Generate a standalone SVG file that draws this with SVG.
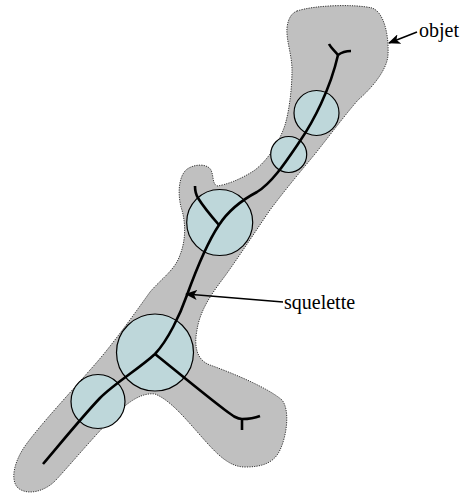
<svg xmlns="http://www.w3.org/2000/svg" width="460" height="493" viewBox="0 0 460 493">
<defs>
<style>
.obj{fill:#c0c0c0;stroke:#333;stroke-width:1;stroke-dasharray:1.2,1.2}
.ball{fill:#bed7da;stroke:#000;stroke-width:1.2}
.sk{fill:none;stroke:#000;stroke-width:2.6;stroke-linecap:butt;stroke-linejoin:round}
.lead{fill:none;stroke:#000;stroke-width:1.6}
.lbl{font-family:"Liberation Serif","Times New Roman",serif;font-size:20px;fill:#000}
</style>
<marker id="ah" viewBox="0 0 12 10" refX="11" refY="5" markerWidth="12" markerHeight="10" markerUnits="userSpaceOnUse" orient="auto">
<path d="M0,0 L12,5 L0,10 L3,5 Z" fill="#000"/>
</marker>
</defs>
<rect width="460" height="493" fill="#fff"/>
<g id="objet-shape">
<path class="obj" d="M297,11 C315,5 355,4 372,8 C384,12 389,35 388,55 C387,70 372,88 358,100 C345,115 330,135 315,154 C300,172 285,190 270,210 C255,232 240,255 225,276 C212,293 200,310 197,330 C194,345 196,360 210,365 C235,374 268,388 282,400 C290,410 287,435 280,450 C274,463 262,467 245,467 C228,467 215,452 200,435 C185,418 170,400 155,394 C140,392 125,405 115,415 C95,435 70,465 55,481 C45,491 28,496 18,488 C10,480 14,462 25,446 C40,425 70,393 90,370 C110,348 130,320 150,292 C162,278 175,270 180,255 C186,240 186,222 181,207 C178,195 178,178 186,170 C193,164 207,163 211,170 C214,177 212,183 217,186 C225,185 240,180 255,170 C270,158 280,140 285,125 C290,108 292,85 292,70 C292,55 286,40 287,28 C288,18 292,13 297,11 Z"/>
</g>
<g id="balls">
<circle id="ball1" class="ball" cx="316.5" cy="113" r="22.5"/>
<circle id="ball2" class="ball" cx="288.7" cy="154.5" r="18"/>
<circle id="ball3" class="ball" cx="219.7" cy="222.5" r="33"/>
<circle id="ball4" class="ball" cx="155" cy="352.5" r="38.5"/>
<circle id="ball5" class="ball" cx="98" cy="401.5" r="27"/>
</g>
<g id="skeleton">
<path class="sk" d="M43,464 C60,444 82,417 100,398 C115,383 140,368 155,354 C168,340 180,315 187,295 C195,273 207,243 219,225 C228,211 242,200 257,192 C272,183 285,163 300,141 C313,122 330,90 338,55"/>
<path class="sk" d="M338,55 C335,51 331,48 329,44"/>
<path class="sk" d="M338,55 C342,52 346,51 351,51"/>
<path class="sk" d="M219,225 C212,217 203,206 198,198 C195,193 195,190 195,186"/>
<path class="sk" d="M155,354 C175,370 205,395 225,410 C233,416 237,419 242,419"/>
<path class="sk" d="M242,419 C249,419 255,418 260,416"/>
<path class="sk" d="M242,419 L242,430"/>
</g>
<g id="connectors">
<line class="lead" x1="417" y1="32" x2="389" y2="43" marker-end="url(#ah)"/>
<line class="lead" x1="283" y1="302" x2="186" y2="294" marker-end="url(#ah)"/>
</g>
<g id="labels">
<text id="label-objet" class="lbl" x="419" y="36.5">objet</text>
<text id="label-squelette" class="lbl" x="284" y="309">squelette</text>
</g>
</svg>
